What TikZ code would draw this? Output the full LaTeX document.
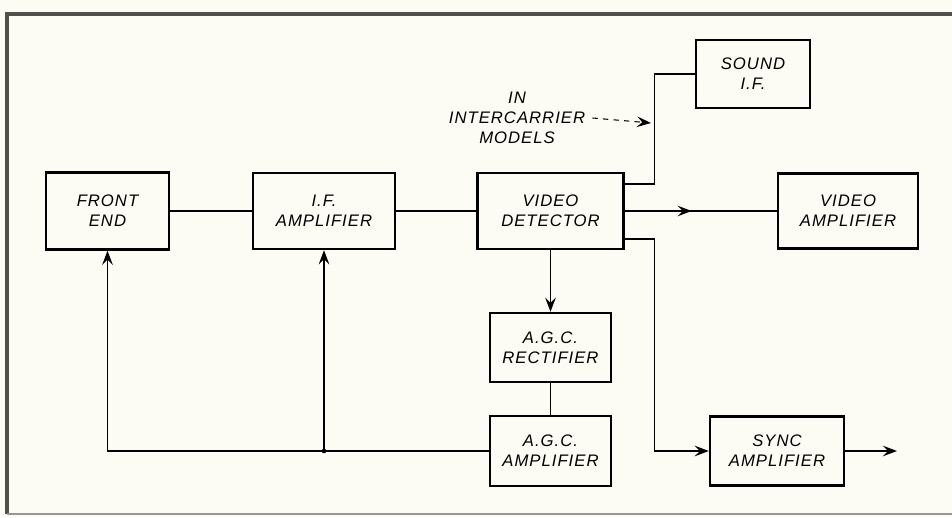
\documentclass[tikz,border=0pt]{standalone}
\usepackage{fontspec}
\setsansfont{Liberation Sans}[LetterSpace=6.0]
\usepackage{tikz}
\usetikzlibrary{positioning,arrows.meta,decorations.markings}
\usepackage{xcolor}
\definecolor{paper}{RGB}{252,251,244}
\definecolor{rim}{RGB}{80,80,76}
\newcommand{\lblfont}{\sffamily\itshape\fontsize{9.5}{11.2}\selectfont}

\begin{document}
\begin{tikzpicture}[x=0.02cm,y=-0.02cm,
      box/.style={draw=black,line width=1.4pt,inner sep=0pt,align=center,font=\lblfont},
      wire/.style={draw=black,line width=0.8pt},
      arr/.style={wire,-{Stealth[length=8pt,width=6pt,inset=3pt]}},
      midarr/.style={wire,postaction={decorate,decoration={markings,
        mark=at position 0.44 with {\arrow{Stealth[length=8pt,width=6pt,inset=3pt]}}}}}
    ]
      \fill[paper] (0,0) rectangle (952,517);
      \useasboundingbox (0,0) rectangle (952,517);
      \draw[rim,line width=2.2pt] (952,14) -- (7,14) -- (7,514);
      \draw[rim!60,line width=1.6pt] (7,514) -- (952,514);
      \node[box,minimum width=2.46cm,minimum height=1.54cm] (fe) at (107.5,211) {FRONT\\END};
      \node[box,minimum width=2.84cm,minimum height=1.52cm] (ifa) at (324,211) {I.F.\\AMPLIFIER};
      \node[box,minimum width=2.92cm,minimum height=1.52cm] (vd) at (550.5,211) {VIDEO\\DETECTOR};
      \node[box,minimum width=2.80cm,minimum height=1.50cm] (va) at (848,211) {VIDEO\\AMPLIFIER};
      \node[box,minimum width=2.28cm,minimum height=1.36cm] (sif) at (753,74) {SOUND\\I.F.};
      \node[box,minimum width=2.42cm,minimum height=1.38cm] (agcr) at (550.5,347.5) {A.G.C.\\RECTIFIER};
      \node[box,minimum width=2.42cm,minimum height=1.40cm] (agca) at (550.5,451) {A.G.C.\\AMPLIFIER};
      \node[box,minimum width=2.68cm,minimum height=1.38cm] (sync) at (777,451) {SYNC\\AMPLIFIER};
      \node[align=center,font=\lblfont,inner sep=1pt] (note) at (517,118) {IN\\INTERCARRIER\\MODELS};
      \coordinate (jn) at (ifa.south |- agca.west);
      \coordinate (tap) at (651,123);
      \coordinate (out) at (897,451);
      \draw[wire] (fe) -- (ifa);
      \draw[wire] (ifa) -- (vd);
      \draw[midarr] (vd) -- (va);
      \draw[wire] ([yshift=0.54cm]vd.east) -- ++(30,0) |- (sif.west);
      \draw[arr] ([yshift=-0.56cm]vd.east) -- ++(30,0) |- (sync.west);
      \draw[arr] (vd) -- (agcr);
      \draw[wire] (agcr) -- (agca);
      \draw[arr] (agca.west) -| (fe.south);
      \draw[arr] (jn) -- (ifa.south);
      \fill (jn) circle (1.3pt);
      \draw[arr] (sync) -- (out);
      \draw[arr,dashed,line width=0.6pt] ([xshift=3pt]note.east) -- (tap);
    \end{tikzpicture}
\end{document}
